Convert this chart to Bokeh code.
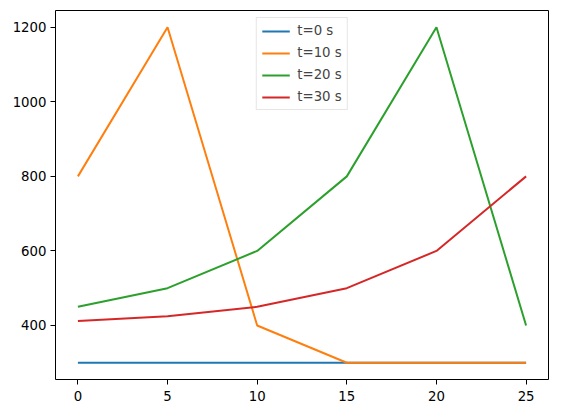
from bokeh.plotting import figure
from bokeh.models import Range1d, Legend, LegendItem, FixedTicker
from bokeh.embed import file_html
from bokeh.resources import INLINE

x = [0, 5, 10, 15, 20, 25]
t0 = [300, 300, 300, 300, 300, 300]
t10 = [800, 1200, 400, 300, 300, 300]
t20 = [450, 500, 600, 800, 1200, 400]
t30 = [412, 425, 450, 500, 600, 800]
labels = ["t=0 s", "t=10 s", "t=20 s", "t=30 s"]
colors = ["#1f77b4", "#ff7f0e", "#2ca02c", "#d62728"]

p = figure(width=555, height=405, output_backend="svg", toolbar_location=None,
           x_range=Range1d(-1.25, 26.25), y_range=Range1d(255, 1245),
           min_border_left=55, min_border_right=7, min_border_top=10, min_border_bottom=26)
p.xgrid.visible = False
p.ygrid.visible = False
p.outline_line_color = "black"
p.outline_line_width = 1
for ax in (p.xaxis[0], p.yaxis[0]):
    ax.axis_line_color = None
    ax.major_tick_in = 0
    ax.major_tick_out = 5
    ax.minor_tick_line_color = None
    ax.major_label_text_font = "DejaVu Sans"
    ax.major_label_text_font_size = "13.3px"
    ax.major_label_text_color = "black"
    ax.major_label_standoff = 4
p.xaxis[0].major_label_standoff = 6
p.xaxis.ticker = FixedTicker(ticks=[0, 5, 10, 15, 20, 25])
p.yaxis.ticker = FixedTicker(ticks=[400, 600, 800, 1000, 1200])

items = []
for ys, lab, c in zip([t0, t10, t20, t30], labels, colors):
    r = p.line(x, ys, line_color=c, line_width=2)
    items.append(LegendItem(label=lab, renderers=[r]))

leg = Legend(items=items, location="top_center")
leg.label_text_font = "DejaVu Sans"
leg.label_text_font_size = "13.3px"
leg.glyph_width = 28
leg.glyph_height = 14
leg.label_standoff = 8
leg.spacing = 7
leg.padding = 5
leg.margin = 7
leg.border_line_color = "#cccccc"
leg.border_line_width = 1
leg.background_fill_alpha = 0.8
p.add_layout(leg, "center")

open("out.html", "w").write(file_html(p, INLINE))
